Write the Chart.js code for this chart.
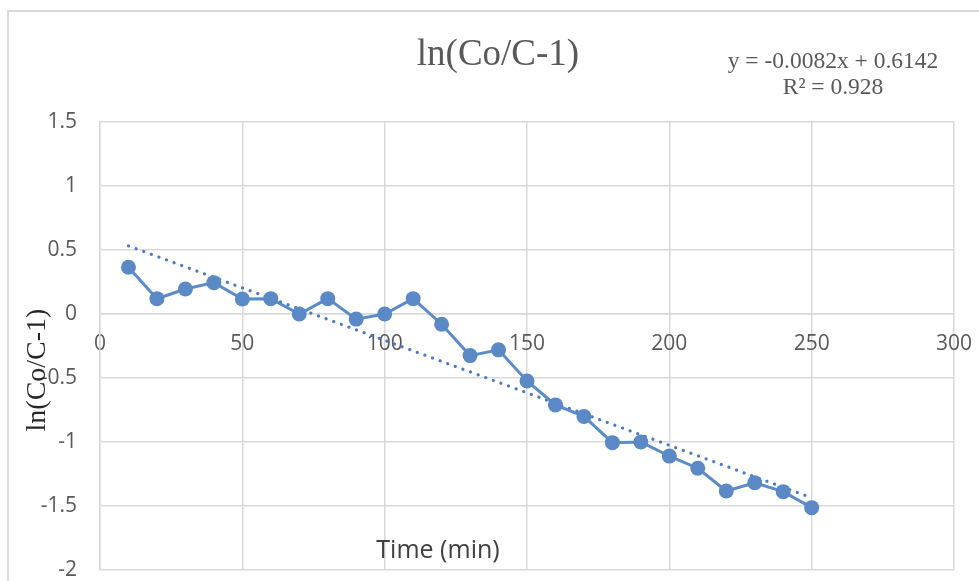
<!DOCTYPE html>
<html>
<head>
<meta charset="utf-8">
<script src="https://cdn.jsdelivr.net/npm/chart.js@4"></script>
<style>
  html, body { margin: 0; padding: 0; background: #fff; }
  #wrap { width: 979px; height: 581px; position: relative; }
</style>
</head>
<body>
<div id="wrap"><canvas id="myChart" width="979" height="581"></canvas></div>
<script>
"use strict"

// data
const time_min = [10, 20, 30, 40, 50, 60, 70, 80, 90, 100, 110, 120, 130, 140, 150, 160, 170, 180, 190, 200, 210, 220, 230, 240, 250]
const ln_values = [0.365, 0.12, 0.195, 0.245, 0.117, 0.12, 0.0, 0.12, -0.04, 0.0, 0.12, -0.08, -0.325, -0.28, -0.523, -0.71, -0.80, -1.005, -1.0, -1.11, -1.205, -1.383, -1.318, -1.388, -1.513]
const trend_x = [10, 250]
const trend_y = [0.532, -1.436]
const x_ticks = [0, 50, 100, 150, 200, 250, 300]
const y_ticks = [-2, -1.5, -1, -0.5, 0, 0.5, 1, 1.5]

const ctx = document.getElementById('myChart')

const series_points = time_min.map((t, i) => ({ x: t, y: ln_values[i] }))
const trend_points = trend_x.map((t, i) => ({ x: t, y: trend_y[i] }))

// texts + frame drawn on the canvas
const decor = {
  id: 'decor',
  beforeDraw(chart) {
    const c = chart.ctx
    c.save()
    c.fillStyle = '#fff'
    c.fillRect(0, 0, chart.width, chart.height)
    c.strokeStyle = '#d9d9d9'
    c.lineWidth = 2
    c.beginPath()
    c.moveTo(8, chart.height)
    c.lineTo(8, 11)
    c.lineTo(chart.width, 11)
    c.stroke()
    c.restore()
  },
  afterDraw(chart) {
    const c = chart.ctx
    c.save()
    c.fillStyle = '#595959'
    c.textAlign = 'center'
    c.textBaseline = 'middle'
    c.font = '37px "Liberation Serif", serif'
    c.fillText('ln(Co/C-1)', 498, 55)
    c.font = '23.5px "Liberation Serif", serif'
    c.fillText('y = -0.0082x + 0.6142', 833, 62)
    c.fillText('R² = 0.928', 833, 88)

    c.fillStyle = '#404040'
    c.font = '25px "Open Sans", sans-serif'
    c.fillText('Time (min)', 438, 551)

    c.translate(38, 370)
    c.rotate(-Math.PI / 2)
    c.fillStyle = '#262626'
    c.font = '28px "Liberation Serif", serif'
    c.fillText('ln(Co/C-1)', 0, 0)
    c.restore()
  }
}

function no_pad(scale) {
  scale.paddingTop = 0
  scale.paddingBottom = 0
  scale.paddingLeft = 0
  scale.paddingRight = 0
}

let graph = new Chart(ctx, {
  type: 'scatter',
  data: {
    datasets: [
      {
        label: 'ln(Co/C-1)',
        data: series_points,
        showLine: true,
        borderColor: '#5b8bc8',
        backgroundColor: '#5a89c6',
        borderWidth: 3,
        pointRadius: 7.5,
        pointHoverRadius: 7.5,
        pointBorderWidth: 0,
        order: 1
      },
      {
        label: 'Linear',
        data: trend_points,
        showLine: true,
        borderColor: '#4a7bc4',
        borderWidth: 3.2,
        borderDash: [0.1, 8],
        borderCapStyle: 'round',
        pointRadius: 0,
        order: 2
      }
    ]
  },
  options: {
    responsive: false,
    animation: false,
    layout: {
      padding: { left: 0, top: 122, right: 25, bottom: 11 }
    },
    plugins: {
      legend: { display: false },
      title: { display: false },
      tooltip: { enabled: false }
    },
    scales: {
      x: {
        type: 'linear',
        position: { y: 0 },
        min: 0,
        max: 300,
        afterBuildTicks: (scale) => { scale.ticks = x_ticks.map(v => ({ value: v })) },
        afterFit: (scale) => { scale.height = 0; no_pad(scale) },
        grid: { color: '#d9d9d9', lineWidth: 1.5, drawTicks: false },
        border: { color: '#d9d9d9', width: 1.5 },
        ticks: {
          color: '#595959',
          font: { family: '"Open Sans", sans-serif', size: 21 },
          padding: 17,
          maxRotation: 0
        }
      },
      y: {
        type: 'linear',
        min: -2,
        max: 1.5,
        afterBuildTicks: (scale) => { scale.ticks = y_ticks.map(v => ({ value: v })) },
        afterFit: (scale) => { scale.width = 100; no_pad(scale) },
        grid: { color: '#d9d9d9', lineWidth: 1.5, drawTicks: false },
        border: { color: '#d9d9d9', width: 1.5 },
        ticks: {
          color: '#595959',
          font: { family: '"Open Sans", sans-serif', size: 21 },
          padding: 23,
          callback: (v) => String(v)
        }
      }
    }
  },
  plugins: [decor]
})
</script>
</body>
</html>
